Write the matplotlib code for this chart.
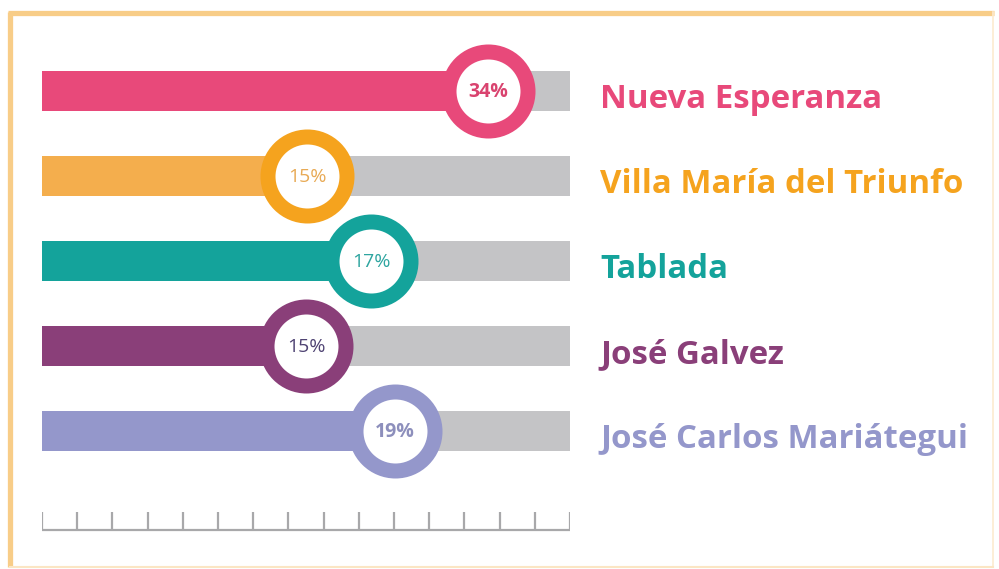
import matplotlib
matplotlib.use("Agg")
import matplotlib.pyplot as plt
from matplotlib.lines import Line2D

# ---- data ----
districts = ["Nueva Esperanza", "Villa María del Triunfo", "Tablada",
             "José Galvez", "José Carlos Mariátegui"]
pct_labels = ["34%", "15%", "17%", "15%", "19%"]
# position of the marker along the 15-division scale (as drawn in the infographic)
fill_pos = [12.67, 7.53, 9.35, 7.5, 10.03]
scale_max = 15
bar_colors = ["#E8497A", "#F4AE4D", "#14A39B", "#8A3F79", "#9497CB"]
ring_colors = ["#E8497A", "#F5A31E", "#14A39B", "#8A3F79", "#9497CB"]
pct_colors = ["#D9436F", "#E8AA55", "#2EA5A0", "#4F4373", "#8D8FBC"]
pct_weights = ["bold", "normal", "normal", "normal", "bold"]
label_colors = ["#E8497A", "#F5A31E", "#14A39B", "#8A3F79", "#9497CB"]

W, H, DPI = 999, 569, 100
fig = plt.figure(figsize=(W / DPI, H / DPI), dpi=DPI)
fig.patch.set_facecolor("white")

# frame
fig.add_artist(Line2D([9.5 / W, 9.5 / W], [1 - 12 / H, 1 - 567 / H], color="#F8CD88", lw=3.8,
                      transform=fig.transFigure, solid_capstyle="butt"))
fig.add_artist(Line2D([7.5 / W, 994 / W], [1 - 12.5 / H, 1 - 12.5 / H], color="#F8CD88", lw=3.8,
                      transform=fig.transFigure, solid_capstyle="butt"))
fig.add_artist(Line2D([993 / W, 993 / W], [1 - 12 / H, 1 - 567 / H], color="#FCEBD0", lw=1.2,
                      transform=fig.transFigure))
fig.add_artist(Line2D([9.5 / W, 993 / W], [1 - 566.5 / H, 1 - 566.5 / H], color="#FBE6C4", lw=1.5,
                      transform=fig.transFigure))

row0_px, row_step = 91.0, 85.0
ax = fig.add_axes([42 / W, 0, 528 / W, 1])
ax.set_xlim(0, scale_max)
ax.set_ylim((H - row0_px) / row_step, -row0_px / row_step)
ax.axis("off")

rows = list(range(len(districts)))
ax.barh(rows, [scale_max] * len(rows), height=40 / row_step, color="#C4C4C6", left=0, zorder=1)
ax.barh(rows, fill_pos, height=40 / row_step, color=bar_colors, left=0, zorder=2)

# rings: outer radius 47 px, thickness 15 px
ring_px = 15
mid_diam_pt = (2 * 47 - ring_px) * 0.72
for i in rows:
    ax.scatter([fill_pos[i]], [i], s=mid_diam_pt ** 2, facecolor="white",
               edgecolor=ring_colors[i], linewidths=ring_px * 0.72, zorder=3, clip_on=False)
    ax.text(fill_pos[i], i + 0.01, pct_labels[i], ha="center", va="center",
            fontsize=14, color=pct_colors[i], fontweight=pct_weights[i],
            family="Open Sans", zorder=4)
    ax.text((600 - 42) / (528 / scale_max), i + 0.1, districts[i], ha="left", va="center",
            fontsize=23.8, fontweight="bold", color=label_colors[i], family="Open Sans",
            clip_on=False)

# scale ruler
base_y = (530 - row0_px) / row_step
top_y = (512 - row0_px) / row_step
ticks = list(range(scale_max + 1))
ax.plot([0, scale_max], [base_y, base_y], color="#A8A8AA", lw=1.6, solid_capstyle="butt")
ax.vlines(ticks, top_y, base_y, color="#A8A8AA", lw=1.6)

fig.savefig("out.png", dpi=DPI, facecolor="white")
